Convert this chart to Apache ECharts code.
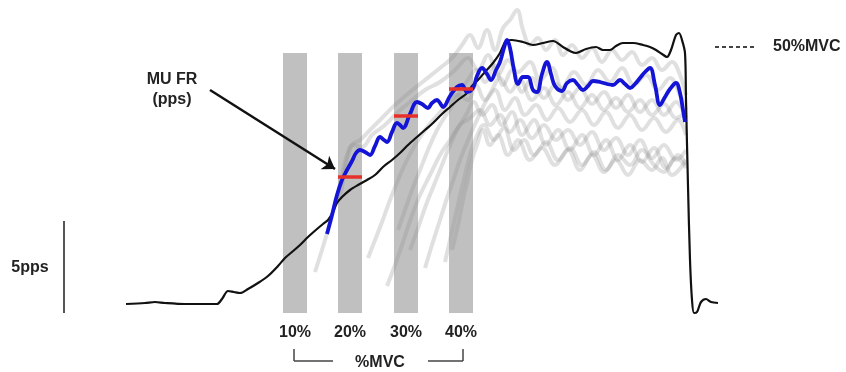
<!DOCTYPE html>
<html>
<head>
<meta charset="utf-8">
<script src="https://cdn.jsdelivr.net/npm/echarts@6/dist/echarts.min.js"></script>
<style>
html, body { margin: 0; padding: 0; background: #fff; }
#chart { width: 846px; height: 372px; }
</style>
</head>
<body>
<div id="chart"></div>
<script>
// 坐标: x = 时间, y = 幅度 (向下增大, 与原图同向)
var bandCenters = [295, 350, 406, 461];
var bandLabels = ['10%', '20%', '30%', '40%'];
var redCenters = [350, 406, 461];
var redLevels = [177, 116, 89];

// 力 (黑线)
var forceData = [
  [126,304],[145,303],[155,302],[165,303],[185,304],[205,304],[217,304],[222,299],[228,291],[234,292],
  [240,293],[248,289],[258,283],[268,276],[278,266],[285,258],[292,252],[300,245],[308,237],[317,229],
  [323,224],[328,220],[333,212],[337,203],[342,197],[350,190],[358,185],[367,180],[375,175],[383,167],
  [392,160],[400,153],[408,145],[417,137],[425,130],[433,123],[442,114],[450,107],[458,100],[466,94],
  [472,86],[478,80],[485,72],[493,63],[500,53],[506,41],[512,40],[523,42],[533,45],[543,43],
  [553,41],[563,47],[570,51],[576,53],[586,49],[596,47],[603,50],[610,50],[616,46],[623,43],
  [633,43],[643,45],[650,47],[656,50],[662,54],[667,57],[671,50],[676,35],[679,33],[682,40],
  [685,53],[686,100],[688,186],[690,260],[692,300],[694,313],[697,312],[701,302],[706,299],[711,302],[718,303]
];

// 选中运动单位放电率 (蓝线)
var blueData = [
  [327,234],[332,215],[337,195],[342,180],[347,170],[352,161],[356,153],[360,150],[365,152],[370,155],
  [375,146],[380,137],[384,140],[387,142],[392,132],[397,123],[400,125],[403,128],[410,114],[417,102],
  [422,104],[428,108],[432,103],[437,100],[440,103],[443,107],[450,96],[457,87],[462,85],[467,92],
  [473,88],[477,76],[482,68],[487,74],[491,80],[496,70],[500,62],[504,48],[507,40],[510,48],
  [514,70],[518,84],[523,77],[528,77],[533,90],[537,92],[542,74],[547,62],[551,74],[555,86],
  [562,91],[567,83],[573,80],[578,85],[583,90],[588,86],[593,81],[600,82],[607,84],[613,85],
  [620,80],[625,84],[630,88],[635,84],[640,78],[645,72],[650,68],[655,85],[660,105],[665,97],
  [670,89],[676,83],[680,93],[683,110],[685,122]
];

// 其他运动单位 (灰线)
var gray1 = [[340,200],[346,165],[352,145],[360,140],[370,130],[382,118],[395,105],[410,92],[425,80],[440,68],[452,58],[462,45],[470,35],[478,48],[487,30],[495,50],[503,28],[510,20],[517,10],[523,30],[530,45],[538,38],[546,50],[555,40],[563,55],[572,45],[582,58],[592,48],[602,62],[612,50],[622,60],[632,52],[642,65],[652,58],[662,70],[672,62],[680,75],[686,95]];
var gray2 = [[315,272],[322,250],[328,230],[335,205],[341,180],[347,155],[353,145],[362,147],[372,135],[385,125],[398,112],[410,102],[425,90],[440,82],[455,70],[468,58],[478,70],[488,55],[498,75],[508,60],[518,72],[530,62],[540,80],[552,68],[562,88],[574,72],[586,85],[598,70],[610,82],[622,68],[634,85],[646,75],[658,90],[670,78],[680,95],[686,110]];
var gray3 = [[368,258],[375,240],[382,222],[390,200],[398,180],[406,162],[415,145],[425,130],[435,118],[447,105],[458,95],[468,100],[476,85],[485,100],[495,90],[505,110],[515,98],[525,115],[536,105],[547,120],[558,108],[570,122],[582,110],[594,125],[606,112],[618,128],[630,115],[642,130],[654,118],[666,132],[678,120],[686,135]];
var gray4 = [[387,286],[395,265],[403,242],[411,218],[420,195],[430,175],[440,155],[450,140],[460,125],[470,118],[480,110],[490,125],[500,115],[510,132],[520,120],[532,138],[544,125],[556,140],[568,130],[580,145],[592,132],[604,150],[616,138],[628,155],[640,140],[652,158],[664,145],[676,160],[686,150]];
var gray5 = [[410,250],[418,228],[426,205],[434,185],[442,165],[450,145],[458,128],[466,115],[474,102],[482,115],[492,105],[502,125],[512,112],[522,135],[534,120],[546,145],[558,130],[570,150],[582,135],[594,155],[606,140],[618,160],[630,145],[642,162],[654,148],[666,168],[678,155],[686,165]];
var gray6 = [[445,262],[450,240],[455,218],[460,196],[465,175],[470,155],[476,138],[484,125],[494,140],[504,128],[514,150],[524,140],[534,155],[546,142],[558,160],[570,148],[582,165],[594,152],[606,170],[618,155],[630,165],[642,150],[654,165],[664,172],[676,158],[686,168]];
var gray7 = [[398,230],[405,210],[412,190],[420,170],[428,150],[436,132],[444,118],[452,106],[460,92],[468,80],[476,70],[485,82],[494,65],[503,85],[512,70],[522,92],[532,78],[544,98],[556,84],[568,100],[580,88],[592,104],[604,92],[616,108],[628,95],[640,112],[652,100],[664,115],[676,102],[686,118]];
var gray8 = [[452,250],[458,225],[463,200],[468,178],[472,160],[477,145],[483,130],[490,145],[498,135],[508,155],[518,140],[530,160],[542,148],[555,165],[568,150],[580,170],[592,155],[604,172],[616,160],[628,175],[640,160],[652,170],[662,158],[672,175],[686,160]];
var gray9 = [[425,268],[432,245],[440,220],[447,198],[454,178],[460,160],[468,140],[476,122],[484,105],[492,90],[500,78],[510,92],[520,80],[532,100],[544,88],[556,105],[568,92],[580,108],[592,95],[604,110],[616,98],[628,112],[640,100],[652,115],[664,104],[676,118],[686,112]];
var grayTraces = [gray1, gray2, gray3, gray4, gray5, gray6, gray7, gray8, gray9];

var myChart = echarts.init(document.getElementById('chart'));

var BAND_HALF = 12, BAND_TOP = 53, BAND_BOTTOM = 313, RED_HALF = 12;
var textStyleBold = { fontFamily: 'Liberation Sans, Arial, sans-serif', fontWeight: 'bold', fontSize: 16, fill: '#222' };

var series = [];

// 灰色区间
series.push({
    type: 'line',
    data: [],
    silent: true,
    markArea: {
        silent: true,
        itemStyle: { color: '#c0c0c0' },
        data: bandCenters.map(function(c) {
            return [{ xAxis: c - BAND_HALF, yAxis: BAND_TOP }, { xAxis: c + BAND_HALF, yAxis: BAND_BOTTOM }];
        })
    }
});

grayTraces.forEach(function(d) {
    series.push({
        type: 'line',
        data: d,
        showSymbol: false,
        smooth: 0.4,
        silent: true,
        lineStyle: { color: 'rgba(140,140,140,0.27)', width: 4 }
    });
});

series.push({
    type: 'line',
    data: forceData,
    showSymbol: false,
    smooth: 0.3,
    lineStyle: { color: '#111', width: 2.2 }
});

series.push({
    type: 'line',
    data: blueData,
    showSymbol: false,
    smooth: 0.4,
    lineStyle: { color: '#1414d6', width: 3.8 }
});

// 红色标记 + 箭头 + 比例尺 + 括号
series.push({
    type: 'line',
    data: [],
    markLine: {
        silent: true,
        symbol: 'none',
        label: { show: false },
        animation: false,
        data: redCenters.map(function(c, i) {
            return [{ coord: [c - RED_HALF, redLevels[i]], lineStyle: { color: '#e8302a', width: 3.5, type: 'solid' } },
                    { coord: [c + RED_HALF, redLevels[i]] }];
        }).concat([
            [{ coord: [210, 90], symbol: 'none', lineStyle: { color: '#111', width: 2.5, type: 'solid' } },
             { coord: [335, 169], symbol: 'arrow', symbolSize: 12 }],
            [{ coord: [64, 221], lineStyle: { color: '#555', width: 2, type: 'solid' } }, { coord: [64, 313] }],
            [{ coord: [294, 349], lineStyle: { color: '#444', width: 1.5, type: 'solid' } }, { coord: [294, 361] }],
            [{ coord: [294, 361], lineStyle: { color: '#444', width: 1.5, type: 'solid' } }, { coord: [333, 361] }],
            [{ coord: [428, 361], lineStyle: { color: '#444', width: 1.5, type: 'solid' } }, { coord: [463, 361] }],
            [{ coord: [463, 349], lineStyle: { color: '#444', width: 1.5, type: 'solid' } }, { coord: [463, 361] }],
            [{ coord: [715, 47], lineStyle: { color: '#444', width: 2, type: [4, 3] } }, { coord: [757, 47] }]
        ])
    }
});

var option = {
    animation: false,
    grid: { left: 0, right: 0, top: 0, bottom: 0 },
    xAxis: { type: 'value', min: 0, max: 846, show: false },
    yAxis: { type: 'value', min: 0, max: 372, inverse: true, show: false },
    series: series
};

myChart.setOption(option);

function px(x, y) { return myChart.convertToPixel({ gridIndex: 0 }, [x, y]); }

function txt(text, x, y, align) {
    var p = px(x, y);
    return {
        type: 'text', x: p[0], y: p[1], z: 100,
        style: Object.assign({ text: text, textAlign: align || 'center', textVerticalAlign: 'middle' }, textStyleBold)
    };
}

var graphics = bandCenters.map(function(c, i) { return txt(bandLabels[i], c, 333); });
graphics.push(txt('%MVC', 380, 363));
graphics.push(txt('MU FR', 172, 80));
graphics.push(txt('(pps)', 172, 100));
graphics.push(txt('5pps', 30, 268));
graphics.push(txt('50%MVC', 773, 47, 'left'));

myChart.setOption({ graphic: graphics });

window.addEventListener('resize', function() {
    myChart.resize();
});
</script>
</body>
</html>
